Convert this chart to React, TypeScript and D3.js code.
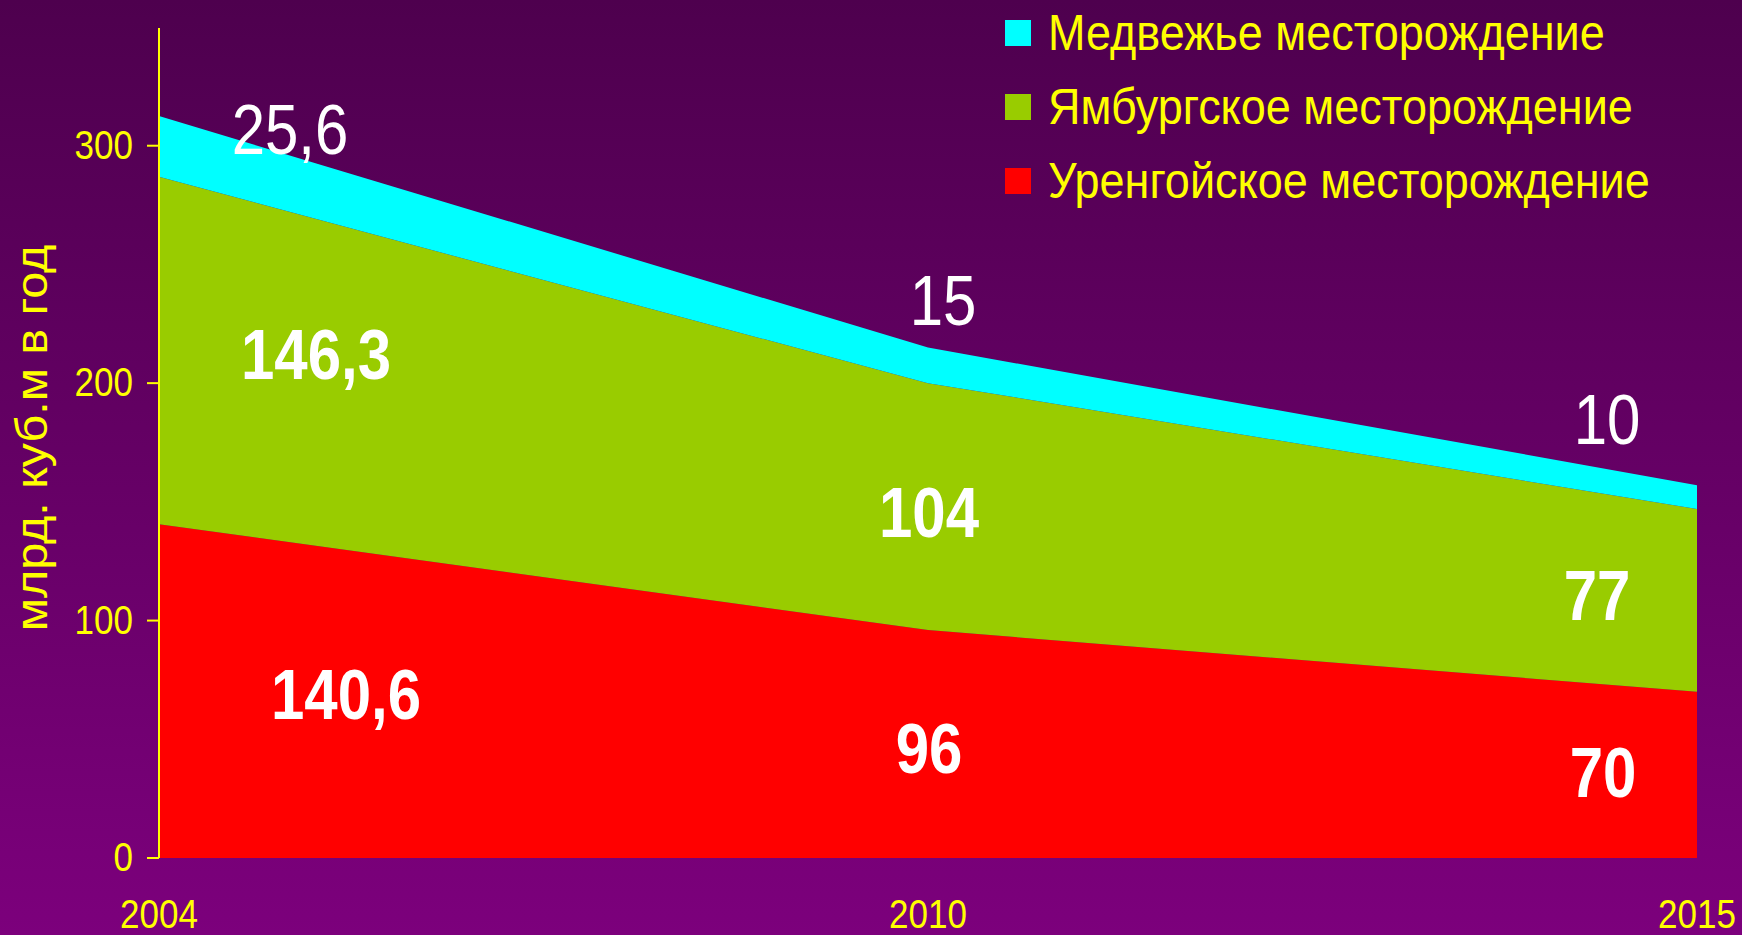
import React from "react";
import * as d3 from "d3";

const years = ["2004", "2010", "2015"];
const seriesKeys = ["urengoy", "yamburg", "medvezhye"];
const seriesNames = ["Уренгойское месторождение", "Ямбургское месторождение", "Медвежье месторождение"];
const urengoy = [140.6, 96, 70];
const yamburg = [146.3, 104, 77];
const medvezhye = [25.6, 15, 10];
const urengoyLabels = ["140,6", "96", "70"];
const yamburgLabels = ["146,3", "104", "77"];
const medvezhyeLabels = ["25,6", "15", "10"];
const yTicks = [0, 100, 200, 300];
const yTitle = "млрд. куб.м в год";

const colors = ["#ff0000", "#99cc00", "#00ffff"];
const W = 1742, H = 935;
const X0 = 159, X1 = 1697, Y0 = 858, YTOP = 27;
const FONT = "'Liberation Sans', Arial, sans-serif";

// label offsets (style only)
const topOffsets = [[131, 14], [15, -47], [-90, -65]];
const bandOffsets = [[157, 5], [1, 6], [-100, -4]];
const bottomOffsets = [[187, 4], [1, 5], [-94, -2]];

type TProps = {
  x: number; y: number; sx?: number; sy?: number; rot?: number;
  size: number; fill: string; anchor?: string; weight?: string; dy?: string; children: any;
};
function T({ x, y, sx = 1, sy = 1.17, rot = 0, size, fill, anchor = "start", weight = "normal", dy = "0", children }: TProps) {
  return (
    <text
      transform={`translate(${x},${y}) rotate(${rot}) scale(${sx},${sy})`}
      textAnchor={anchor}
      fill={fill}
      fontFamily={FONT}
      fontSize={size}
      fontWeight={weight}
      dy={dy}
    >
      {children}
    </text>
  );
}

export default function App() {
  const data = years.map((y, i) => ({ year: y, urengoy: urengoy[i], yamburg: yamburg[i], medvezhye: medvezhye[i] }));
  const x = d3.scalePoint<string>().domain(years).range([X0, X1]);
  const y = d3.scaleLinear().domain([0, 350]).range([Y0, YTOP]);
  const stacked = d3.stack<any>().keys(seriesKeys)(data);
  const area = d3.area<any>()
    .x((d: any) => x(d.data.year) as number)
    .y0((d: any) => y(d[0]))
    .y1((d: any) => y(d[1]))
    .curve(d3.curveLinear);

  React.useEffect(() => {
    document.body.style.margin = "0";
  }, []);

  const legendItems = [2, 1, 0];

  return (
    <svg width={W} height={H} style={{ display: "block", position: "absolute", left: 0, top: 0 }}>
      <defs>
        <linearGradient id="bg" x1="0" y1="0" x2="0" y2="1">
          <stop offset="0%" stopColor="#4e004e" />
          <stop offset="100%" stopColor="#7c007c" />
        </linearGradient>
      </defs>
      <rect x={0} y={0} width={W} height={H} fill="url(#bg)" />
      {stacked.map((s, i) => (
        <path key={s.key} d={area(s as any) as string} fill={colors[i]} />
      ))}
      {/* y axis */}
      <line x1={X0} x2={X0} y1={28} y2={Y0} stroke="#ffff00" strokeWidth={2} />
      {yTicks.map((t) => (
        <g key={t}>
          <line x1={X0 - 12} x2={X0} y1={y(t)} y2={y(t)} stroke="#ffff00" strokeWidth={2} />
          <T x={X0 - 26} y={y(t) + 13} anchor="end" fill="#ffff00" size={35}>
            {t}
          </T>
        </g>
      ))}
      {years.map((yr) => (
        <T key={yr} x={x(yr) as number} y={928} anchor="middle" fill="#ffff00" size={35}>
          {yr}
        </T>
      ))}
      <T x={47} y={438} rot={-90} sx={1.1} sy={1} anchor="middle" fill="#ffff00" size={44}>
        {yTitle}
      </T>
      {/* data labels */}
      {years.map((yr, i) => {
        const s = stacked;
        const topV = s[2][i][1];
        const midY = (s[1][i][0] + s[1][i][1]) / 2;
        const midR = (s[0][i][0] + s[0][i][1]) / 2;
        const xi = x(yr) as number;
        return (
          <g key={yr}>
            <T x={xi + topOffsets[i][0]} y={y(topV) + topOffsets[i][1] + 24} anchor="middle" fill="#ffffff" size={60} sy={1.18}>
              {medvezhyeLabels[i]}
            </T>
            <T x={xi + bandOffsets[i][0]} y={y(midY) + bandOffsets[i][1] + 24} anchor="middle" fill="#ffffff" size={60} sy={1.18} weight="bold">
              {yamburgLabels[i]}
            </T>
            <T x={xi + bottomOffsets[i][0]} y={y(midR) + bottomOffsets[i][1] + 24} anchor="middle" fill="#ffffff" size={60} sy={1.18} weight="bold">
              {urengoyLabels[i]}
            </T>
          </g>
        );
      })}
      {/* legend */}
      {legendItems.map((si, j) => (
        <g key={si}>
          <rect x={1005} y={33 + j * 74 - 13} width={26} height={26} fill={colors[si]} />
          <T x={1048} y={33 + j * 74 + 17} fill="#ffff00" size={45} sy={1.12}>
            {seriesNames[si]}
          </T>
        </g>
      ))}
    </svg>
  );
}
